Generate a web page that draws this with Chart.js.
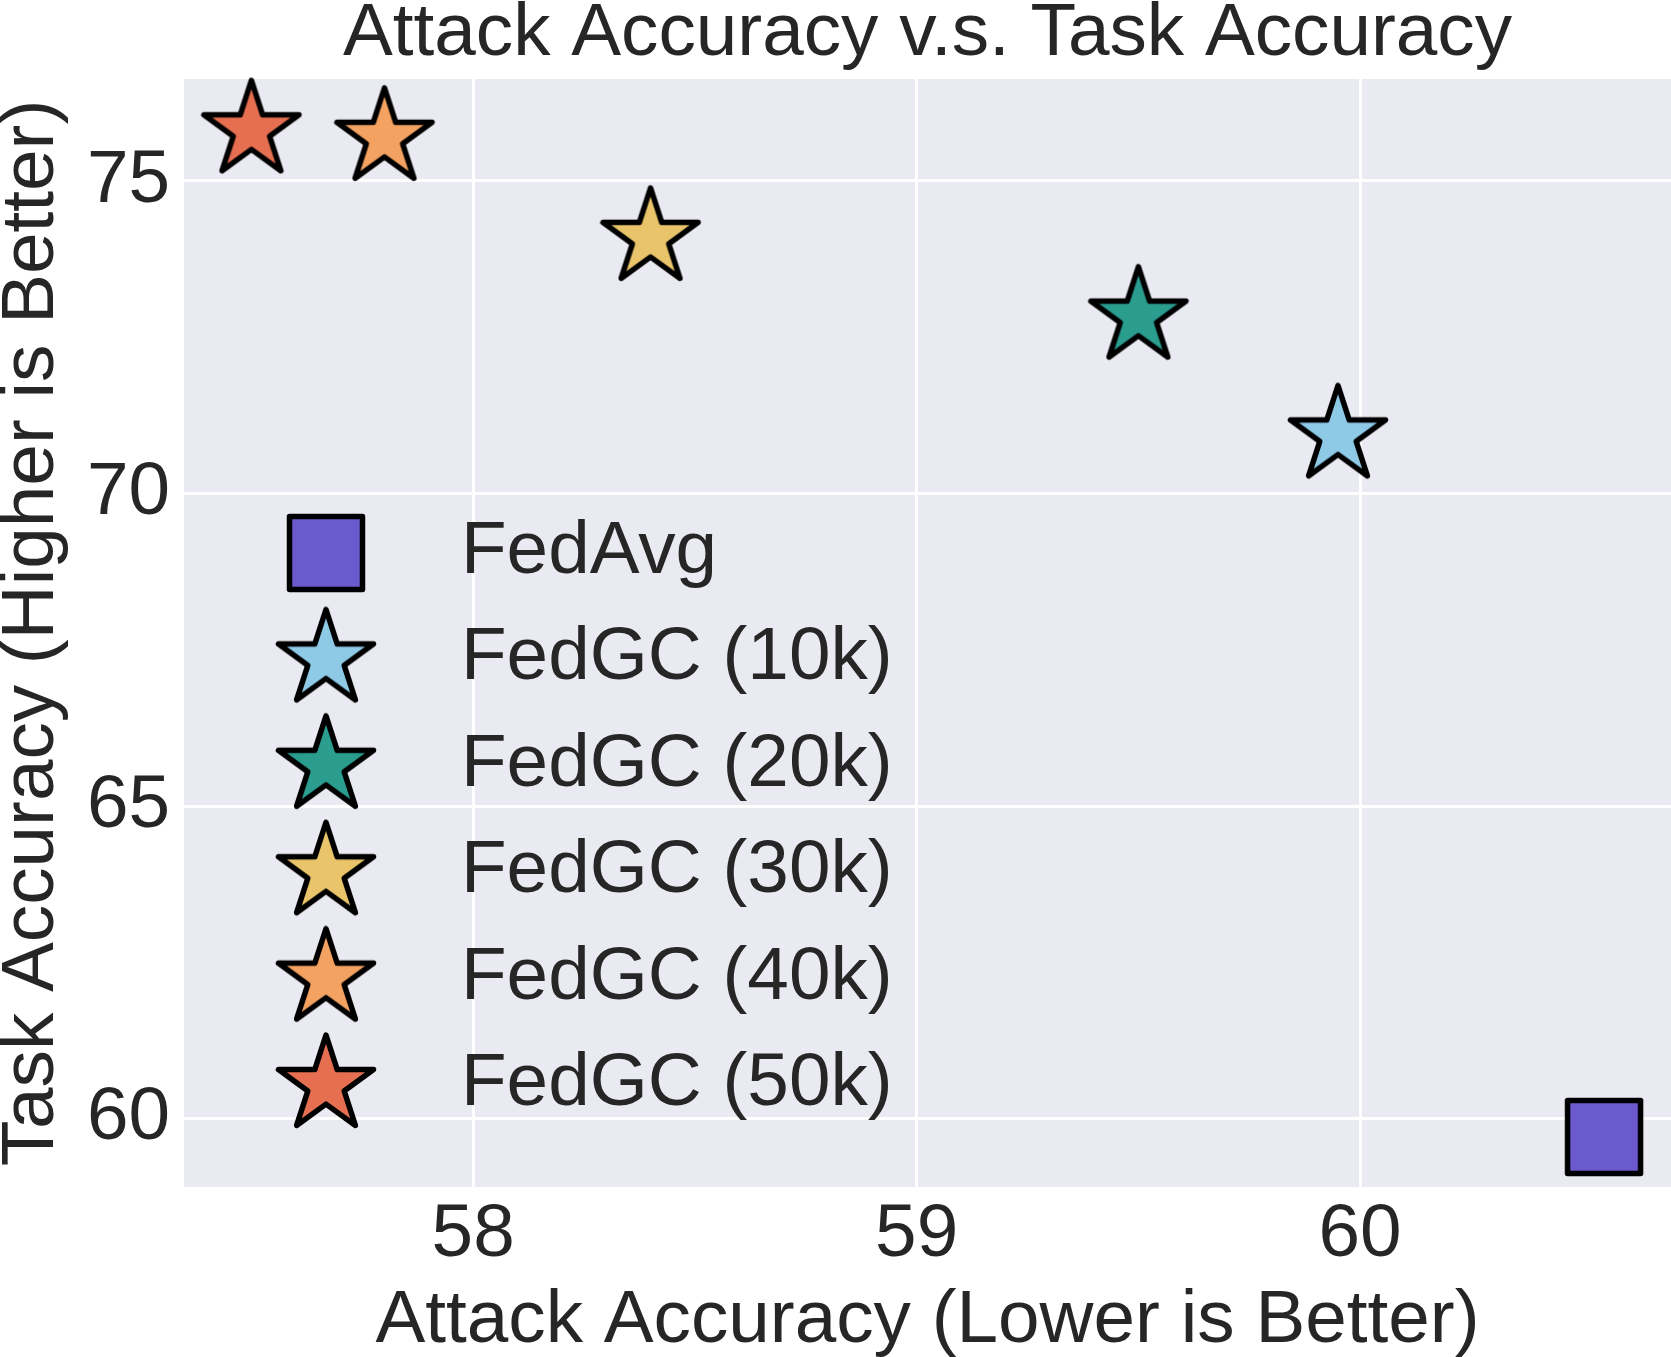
<!DOCTYPE html>
<html>
<head>
<meta charset="utf-8">
<script src="https://cdn.jsdelivr.net/npm/chart.js@4.4.1/dist/chart.umd.min.js"></script>
<style>
  html, body { margin: 0; padding: 0; background: #ffffff; }
  canvas { display: block; }
</style>
</head>
<body>
<canvas id="myChart" width="1671" height="1357"></canvas>
<script>
const methods = ['FedAvg', 'FedGC (10k)', 'FedGC (20k)', 'FedGC (30k)', 'FedGC (40k)', 'FedGC (50k)'];
const attackAcc = [60.55, 59.95, 59.50, 58.40, 57.80, 57.50];
const taskAcc = [59.71, 70.93, 72.83, 74.09, 75.69, 75.81];
const markerColors = ['#6a5acd', '#8ecae6', '#2a9d8f', '#e9c46a', '#f4a261', '#e76f51'];
const markerShapes = ['square', 'star', 'star', 'star', 'star', 'star'];
const xTicks = [58, 59, 60];
const yTicks = [60, 65, 70, 75];

const FONT = '"Liberation Sans", Arial, sans-serif';
const FSIZE = 74.7;
const TEXT = '#262626';

// build a marker image (filled star / square with black edge)
function makeMarker(shape, color) {
  var c = document.createElement('canvas');
  c.width = 120; c.height = 120;
  var g = c.getContext('2d');
  g.translate(60, 60);
  g.beginPath();
  if (shape === 'star') {
    var R = 50, r = R * 0.382;
    for (var i = 0; i < 10; i++) {
      var rad = (i % 2 === 0) ? R : r;
      var a = -Math.PI / 2 + i * Math.PI / 5;
      if (i === 0) g.moveTo(rad * Math.cos(a), rad * Math.sin(a));
      else g.lineTo(rad * Math.cos(a), rad * Math.sin(a));
    }
    g.closePath();
  } else {
    g.rect(-36.5, -36.5, 73, 73);
  }
  g.fillStyle = color;
  g.fill();
  g.lineWidth = 5.5;
  g.lineJoin = 'round';
  g.strokeStyle = '#000000';
  g.stroke();
  return c;
}

var datasets = methods.map(function (m, i) {
  var img = makeMarker(markerShapes[i], markerColors[i]);
  return {
    label: m,
    data: [{ x: attackAcc[i], y: taskAcc[i] }],
    pointStyle: img,
    pointRadius: 0.1,
    pointBorderWidth: 0,
    backgroundColor: markerColors[i],
    borderColor: '#000000',
    clip: false
  };
});

var decor = {
  id: 'decor',
  beforeDraw: function (chart) {
    var a = chart.chartArea, ctx = chart.ctx;
    ctx.save();
    ctx.fillStyle = '#eaeaf2';
    ctx.fillRect(a.left, a.top, a.right - a.left, a.bottom - a.top);
    ctx.restore();
  },
  afterDraw: function (chart) {
    var a = chart.chartArea, ctx = chart.ctx;
    var cx = (a.left + a.right) / 2, cy = (a.top + a.bottom) / 2;
    ctx.save();
    ctx.fillStyle = TEXT;
    ctx.font = FSIZE + 'px ' + FONT;
    ctx.textBaseline = 'alphabetic';
    ctx.textAlign = 'center';
    ctx.fillText('Attack Accuracy v.s. Task Accuracy', cx, 55);
    ctx.fillText('Attack Accuracy (Lower is Better)', cx, 1342);
    ctx.save();
    ctx.translate(53, cy);
    ctx.rotate(-Math.PI / 2);
    ctx.fillText('Task Accuracy (Higher is Better)', 0, 0);
    ctx.restore();

    // legend inside the plot
    ctx.textAlign = 'left';
    chart.data.datasets.forEach(function (ds, i) {
      var my = 553 + i * 106.4;
      var img = ds.pointStyle;
      ctx.drawImage(img, 326 - img.width / 2, my - img.height / 2);
      ctx.fillText(ds.label, 461, my + 20);
    });
    ctx.restore();
  }
};

var myChart = new Chart(document.getElementById('myChart'), {
  type: 'scatter',
  data: { datasets: datasets },
  options: {
    responsive: false,
    animation: false,
    layout: { autoPadding: false, padding: { top: 79, left: 0, right: 0, bottom: 0 } },
    plugins: { legend: { display: false }, tooltip: { enabled: false }, title: { display: false } },
    scales: {
      x: {
        type: 'linear',
        min: 57.348,
        max: 60.701,
        afterFit: function (s) { s.height = 170; s.paddingLeft = 0; s.paddingRight = 0; },
        afterBuildTicks: function (s) { s.ticks = xTicks.map(function (v) { return { value: v }; }); },
        grid: { color: '#ffffff', lineWidth: 3, drawTicks: false },
        border: { display: false },
        ticks: { color: TEXT, font: { family: FONT, size: FSIZE }, padding: 4, maxRotation: 0 }
      },
      y: {
        type: 'linear',
        min: 58.91,
        max: 76.63,
        afterFit: function (s) { s.width = 184; s.paddingTop = 0; s.paddingBottom = 0; },
        afterBuildTicks: function (s) { s.ticks = yTicks.map(function (v) { return { value: v }; }); },
        grid: { color: '#ffffff', lineWidth: 3, drawTicks: false },
        border: { display: false },
        ticks: { color: TEXT, font: { family: FONT, size: FSIZE }, padding: 14 }
      }
    }
  },
  plugins: [decor]
});
</script>
</body>
</html>
